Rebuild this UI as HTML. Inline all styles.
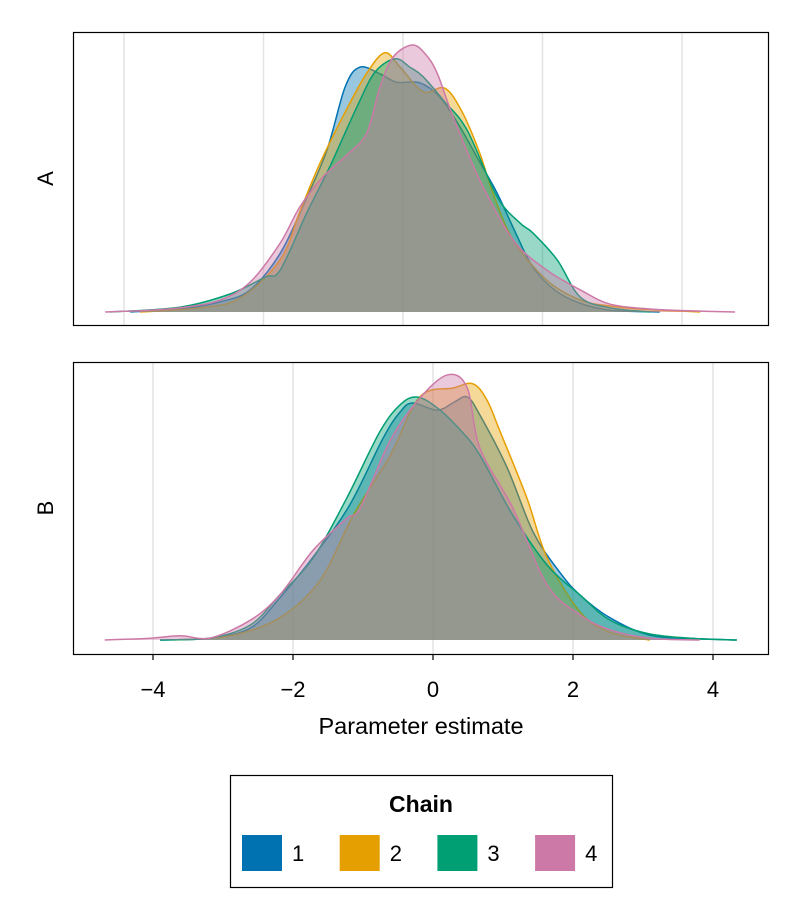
<!DOCTYPE html>
<html><head><meta charset="utf-8"><style>
html,body{margin:0;padding:0;background:#fff;}
svg{display:block;font-family:"Liberation Sans",sans-serif;}
</style></head><body>
<svg id="chart" width="800" height="920" viewBox="0 0 800 920">
<g id="gA"></g>
<g id="gB"></g>
<text x="421" y="734" font-size="23.5" text-anchor="middle" fill="#000">Parameter estimate</text>
<g>
<rect x="230.5" y="775.5" width="382" height="112" fill="#fff" stroke="#000" stroke-width="1.2"/>
<text x="421" y="812" font-size="23" font-weight="bold" text-anchor="middle">Chain</text>
<g id="legendItems"></g>
</g>
</svg>
<script>
const colors = ["#0072B2","#E69F00","#009E73","#CC79A7"];
const chainLabels = ["1","2","3","4"];
const tickLabels = ["−4","−2","0","2","4"];
const tickValues = [-4,-2,0,2,4];

const A1x=[-3.91,-3.20,-2.62,-2.19,-1.76,-1.41,-1.09,-0.83,-0.62,-0.33,-0.09,0.24,0.53,0.82,1.10,1.35,1.61,1.86,2.17,2.53,2.97,3.68];
const A1y=[0,.005,.017,.037,.098,.183,.270,.375,.408,.397,.383,.382,.358,.308,.250,.198,.133,.075,.037,.015,.003,0];
const A2x=[-3.77,-2.91,-2.34,-1.76,-1.48,-1.19,-0.83,-0.52,-0.26,-0.04,0.29,0.60,0.85,1.10,1.29,1.58,2.06,2.54,2.97,3.40,4.26];
const A2y=[0,.007,.023,.087,.167,.248,.333,.398,.432,.408,.367,.373,.333,.265,.198,.120,.053,.020,.010,.005,0];
const A3x=[-4.20,-3.20,-2.48,-1.98,-1.76,-1.38,-1.05,-0.66,-0.40,-0.11,0.10,0.29,0.60,0.92,1.35,1.68,1.86,2.21,2.54,2.97,3.54];
const A3y=[0,.008,.030,.058,.070,.165,.242,.342,.400,.422,.408,.392,.350,.303,.192,.148,.132,.087,.025,.007,0];
const A4x=[-4.27,-3.63,-3.13,-2.62,-2.19,-1.76,-1.48,-1.15,-0.80,-0.52,-0.33,-0.14,0.13,0.32,0.49,0.72,1.10,1.58,2.06,2.54,2.97,3.54,4.11,4.76];
const A4y=[0,.003,.008,.020,.050,.115,.175,.225,.262,.298,.375,.425,.445,.430,.398,.325,.220,.120,.070,.037,.013,.005,.002,0];

const B1x=[-3.90,-3.19,-2.61,-2.19,-1.69,-1.19,-0.71,-0.47,-0.29,0.06,0.31,0.49,0.67,1.06,1.43,1.81,2.10,2.53,3.10,3.81,4.34];
const B1y=[0,.003,.020,.070,.142,.225,.337,.380,.395,.383,.397,.405,.375,.287,.180,.113,.075,.037,.008,.002,0];
const B2x=[-3.69,-2.90,-2.19,-1.61,-1.14,-0.61,-0.19,0.29,0.57,0.77,0.96,1.34,1.63,2.10,2.53,3.10];
const B2y=[0,.007,.037,.100,.208,.308,.405,.420,.427,.400,.347,.237,.137,.047,.013,0];
const B3x=[-3.90,-3.19,-2.61,-2.19,-1.71,-1.23,-0.76,-0.47,-0.23,0.06,0.39,0.67,1.14,1.63,2.10,2.53,3.10,3.81,4.34];
const B3y=[0,.003,.025,.075,.137,.237,.347,.392,.405,.387,.350,.308,.208,.125,.075,.033,.010,.002,0];
const B4x=[-4.69,-4.04,-3.61,-3.19,-2.61,-2.19,-1.71,-1.23,-1.04,-0.61,-0.19,0.21,0.49,0.67,1.14,1.63,2.10,2.53,3.10,3.81];
const B4y=[0,.003,.007,.003,.033,.075,.150,.203,.220,.333,.403,.442,.420,.320,.220,.092,.042,.017,.003,0];

const NS="http://www.w3.org/2000/svg";
function mk(tag,attrs,parent){const e=document.createElementNS(NS,tag);for(const k in attrs)e.setAttribute(k,attrs[k]);parent.appendChild(e);return e;}

function panel(g,frame,x0px,pxPerUnit,base,series,label,showTicks){
  const sx=v=>x0px+v*pxPerUnit;
  const sy=d=>base-d*600;
  tickValues.forEach(v=>{
    const l=mk('line',{x1:sx(v),x2:sx(v),y1:frame.y,y2:frame.y+frame.h,stroke:'#e3e3e3','stroke-width':1.5},g);
    
    
  });
  series.forEach((s,i)=>{
    const xs=s[0],ys=s[1];
    const pts=xs.map((x,k)=>[sx(x),sy(ys[k])]);
    let d='M'+pts[0][0]+','+pts[0][1];
    for(let k=0;k<pts.length-1;k++){
      const p0=pts[Math.max(0,k-1)],p1=pts[k],p2=pts[k+1],p3=pts[Math.min(pts.length-1,k+2)];
      const c1=[p1[0]+(p2[0]-p0[0])/6,Math.min(base,p1[1]+(p2[1]-p0[1])/6)];
      const c2=[p2[0]-(p3[0]-p1[0])/6,Math.min(base,p2[1]-(p3[1]-p1[1])/6)];
      d+=' C'+c1[0]+','+c1[1]+' '+c2[0]+','+c2[1]+' '+p2[0]+','+p2[1];
    }
    const area=mk('path',{d:d+' L'+pts[pts.length-1][0]+','+base+' L'+pts[0][0]+','+base+' Z',fill:colors[i],'fill-opacity':0.4,stroke:'none'},g);
    
    
    const line=mk('path',{d:d,fill:'none',stroke:colors[i],'stroke-width':1.5},g);
    
    
  });
  const fr=mk('rect',{x:frame.x+0.5,y:frame.y+0.5,width:frame.w,height:frame.h,fill:'none',stroke:'#000','stroke-width':1.2},g);
  
  
  const cy=frame.y+frame.h/2;
  const t=mk('text',{x:53,y:cy,'font-size':22,'text-anchor':'middle',transform:'rotate(-90 53 '+cy+')'},g);
  t.textContent=label;
  
  
  if(showTicks){
    tickValues.forEach((v,k)=>{
      const tk=mk('line',{x1:sx(v),x2:sx(v),y1:frame.y+frame.h+1,y2:frame.y+frame.h+6,stroke:'#000','stroke-width':1.2},g);
      
      
      const tl=mk('text',{x:sx(v),y:frame.y+frame.h+43,'font-size':22,'text-anchor':'middle'},g);
      tl.textContent=tickLabels[k];
      
      
    });
  }
}
panel(document.getElementById('gA'),{x:73,y:32,w:695,h:293},403,69.75,312,[[A1x,A1y],[A2x,A2y],[A3x,A3y],[A4x,A4y]],'A',false);
panel(document.getElementById('gB'),{x:73,y:362,w:695,h:292},433,70,640,[[B1x,B1y],[B2x,B2y],[B3x,B3y],[B4x,B4y]],'B',true);

const lg=document.getElementById('legendItems');
chainLabels.forEach((c,i)=>{
  const x=242+i*97.7;
  const r=mk('rect',{x:x,y:835,width:40,height:36,fill:colors[i]},lg);
  
  
  const t=mk('text',{x:x+50,y:861,'font-size':22},lg);
  t.textContent=c;
  
  
});
</script>
</body></html>
